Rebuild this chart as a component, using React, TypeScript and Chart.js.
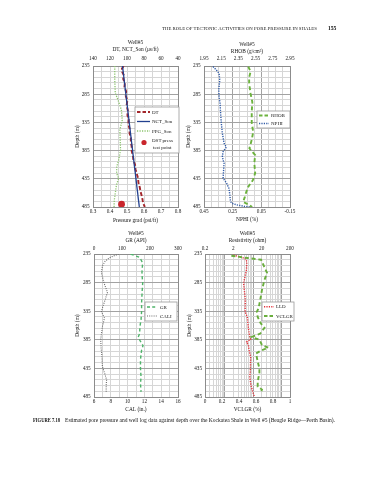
import React, { useEffect, useRef } from 'react';
import { Chart, registerables } from 'chart.js';

Chart.register(...registerables);

const FONT = "'Liberation Serif', 'Times New Roman', Times, serif";
const TEXT = '#151515';
const BORDER = '#8c8c8c';
const MAJOR = '#a2a2a2';
const MINOR = '#d6d6d6';

// ---------- depth axis ----------
const depthTicks = [235, 285, 335, 385, 435, 485];

// ---------- panel 1 : DT / NCT / PPG ----------
const dtTicks = [140, 120, 100, 80, 60, 40];
const pgTicks = [0.3, 0.4, 0.5, 0.6, 0.7, 0.8];
const dtDepth = [235, 240, 246, 252, 258, 265, 272, 280, 288, 296, 305, 314, 322, 330, 338, 346, 354, 362, 370, 378, 386, 394, 402, 410, 418, 426, 434, 442, 450, 458, 466, 474, 480, 485];
const dtValues = [104, 106, 105.5, 103.5, 104.5, 102.5, 103, 101, 101.5, 99.5, 100.5, 99, 99.5, 98, 98.5, 97, 97, 95.5, 95.5, 94.5, 94.5, 93, 92.5, 90.5, 90, 88.5, 87, 86.5, 85, 84, 82.5, 81.5, 80.5, 79];
const nctDepth = [235, 485];
const nctValues = [105.3, 85.5];
const ppgDepth = [235, 260, 283, 295, 313, 331, 348, 366, 384, 402, 413, 425, 434, 446, 461, 473, 485];
const ppgValues = [0.428, 0.428, 0.431, 0.447, 0.467, 0.472, 0.458, 0.46, 0.462, 0.451, 0.44, 0.439, 0.451, 0.438, 0.431, 0.425, 0.424];
const dstDepth = [480];
const dstValues = [0.468];

// ---------- panel 2 : RHOB / NPHI ----------
const rhobTicks = [1.95, 2.15, 2.35, 2.55, 2.75, 2.95];
const rhobLabels = ['1.95', '2.15', '2.35', '2.55', '2.75', '2.95'];
const nphiTicks = [0.45, 0.25, 0.05, -0.15];
const nphiLabels = ['0.45', '0.25', '0.05', '-0.15'];
const rhobDepth = [236, 245, 255, 265, 283, 299, 317, 336, 352, 366, 381, 393, 407, 425, 437, 449, 459, 467, 476, 480, 485];
const rhobValues = [2.465, 2.492, 2.475, 2.475, 2.49, 2.512, 2.505, 2.505, 2.522, 2.505, 2.478, 2.545, 2.535, 2.545, 2.52, 2.465, 2.44, 2.425, 2.405, 2.46, 2.51];
const nphiDepth = [236, 242, 248, 260, 277, 289, 301, 319, 337, 354, 372, 379, 387, 396, 408, 419, 434, 443, 452, 461, 473, 478, 481, 484, 485];
const nphiValues = [0.387, 0.364, 0.345, 0.34, 0.347, 0.345, 0.338, 0.334, 0.329, 0.322, 0.31, 0.294, 0.317, 0.322, 0.31, 0.313, 0.317, 0.292, 0.276, 0.271, 0.266, 0.259, 0.225, 0.166, 0.12];

// ---------- panel 3 : GR / CALI ----------
const grTicks = [0, 100, 200, 300];
const calTicks = [6, 8, 10, 12, 14, 16];
const grDepth = [235, 241, 248, 255, 270, 285, 300, 320, 335, 350, 362, 374, 380, 386, 395, 403, 410, 420, 435, 450, 462, 476];
const grValues = [131, 163, 171, 173, 171, 174, 172, 170, 170, 168, 164, 163, 158, 164, 175, 170, 168, 166, 166, 168, 166, 168];
const calDepth = [235, 238, 242, 248, 256, 268, 286, 302, 314, 327, 336, 347, 362, 375, 385, 400, 415, 432, 445, 455, 465, 476];
const calValues = [8.95, 8.4, 7.8, 7.3, 7.0, 6.88, 7.2, 7.6, 7.35, 7.05, 6.88, 7.25, 7.0, 6.88, 6.8, 6.85, 6.95, 7.0, 7.3, 7.5, 7.45, 7.45];

// ---------- panel 4 : LLD / VCLGR ----------
const lldTicks = [0.2, 2, 20, 200];
const vclTicks = [0, 0.2, 0.4, 0.6, 0.8, 1];
const lldDepth = [237, 240, 243, 248, 263, 286, 315, 336, 345, 365, 380, 384, 389, 395, 405, 415, 438, 450, 465, 475, 484];
const lldValues = [2.0, 3.5, 5.2, 6.0, 5.8, 4.6, 5.3, 5.2, 6.2, 6.8, 7.6, 8.2, 5.9, 6.8, 7.3, 8.2, 8.0, 7.6, 8.4, 9.6, 11];
const vclDepth = [238, 242, 245, 255, 268, 280, 298, 315, 330, 336, 345, 356, 364, 374, 380, 385, 394, 399, 403, 409, 423, 435, 443, 458, 467, 472, 478];
const vclValues = [0.31, 0.5, 0.66, 0.69, 0.73, 0.7, 0.67, 0.65, 0.63, 0.61, 0.62, 0.655, 0.7, 0.65, 0.55, 0.64, 0.67, 0.745, 0.67, 0.6, 0.62, 0.64, 0.64, 0.62, 0.62, 0.67, 0.655];

// ---------- helpers ----------
const range = (a: number, b: number, step: number) => {
  const out: number[] = [];
  const n = Math.round((b - a) / step);
  for (let i = 0; i <= n; i++) out.push(+(a + i * step).toFixed(4));
  return out;
};
const logGrid = (lo: number, hi: number) => {
  const out: number[] = [lo];
  for (const p of [0.1, 1, 10, 100, 1000]) {
    for (let k = 1; k <= 9; k++) {
      const v = +(k * p).toFixed(4);
      if (v > lo && v <= hi) out.push(v);
    }
  }
  return out;
};
const near = (a: number, b: number) => Math.abs(a - b) < 1e-6 * Math.max(1, Math.abs(b));
const pts = (depth: number[], vals: number[]) => depth.map((d, i) => ({ x: vals[i], y: d }));
const depthGrid = range(235, 485, 10);

const tickFont = { family: FONT, size: 5.2, lineHeight: 1.2 };
const titleFont = { family: FONT, size: 5.4, lineHeight: '6.8px' };

interface XSpec {
  position: 'top' | 'bottom';
  type: 'linear' | 'logarithmic';
  min: number;
  max: number;
  reverse?: boolean;
  ticks: number[];
  labels: string[];
  grid?: number[];
  dark?: number[];
  title: string | string[];
  titlePad: number;
  tickPad: number;
  size: number;
}

interface PanelSpec {
  left: number;
  top: number;
  w: number;
  h: number;
  yWidth: number;
  rightPad: number;
  yTickPad: number;
  yTitlePad: number;
  xTop: XSpec;
  xBottom: XSpec;
  datasets: any[];
}

function xScale(s: XSpec) {
  return {
    type: s.type,
    position: s.position,
    min: s.min,
    max: s.max,
    reverse: !!s.reverse,
    afterBuildTicks: (sc: any) => {
      sc.ticks = (s.grid ?? s.ticks).map((v) => ({ value: v }));
    },
    afterFit: (sc: any) => {
      sc.height = s.size;
      sc.paddingLeft = 0;
      sc.paddingRight = 0;
    },
    ticks: {
      autoSkip: false,
      maxRotation: 0,
      minRotation: 0,
      padding: s.tickPad,
      font: tickFont,
      color: TEXT,
      callback: (v: any) => {
        const i = s.ticks.findIndex((t) => near(t, Number(v)));
        return i >= 0 ? s.labels[i] : '';
      },
    },
    grid: s.grid
      ? {
          display: true,
          drawTicks: false,
          lineWidth: 1,
          color: (c: any) => {
            const v = c.tick ? c.tick.value : NaN;
            if (near(v, s.min) || near(v, s.max)) return BORDER;
            if (s.dark && s.dark.some((d) => near(d, v))) return MAJOR;
            return MINOR;
          },
        }
      : { display: false, drawTicks: false },
    border: { display: true, color: BORDER, width: 1 },
    title: {
      display: true,
      text: s.title,
      color: TEXT,
      font: titleFont,
      padding: s.position === 'top' ? { top: s.titlePad, bottom: 0 } : { top: 0, bottom: s.titlePad },
    },
  };
}

function buildConfig(p: PanelSpec): any {
  return {
    type: 'scatter',
    data: { datasets: p.datasets },
    options: {
      responsive: false,
      animation: false,
      devicePixelRatio: 1,
      events: [],
      layout: { padding: { left: 0, top: 0, right: p.rightPad, bottom: 0 } },
      plugins: { legend: { display: false }, tooltip: { enabled: false } },
      scales: {
        xTop: xScale(p.xTop),
        xBottom: xScale(p.xBottom),
        y: {
          type: 'linear',
          position: 'left',
          reverse: true,
          min: 235,
          max: 485,
          afterBuildTicks: (sc: any) => {
            sc.ticks = depthGrid.map((v) => ({ value: v }));
          },
          afterFit: (sc: any) => {
            sc.width = p.yWidth;
            sc.paddingTop = 0;
            sc.paddingBottom = 0;
          },
          ticks: {
            autoSkip: false,
            padding: p.yTickPad,
            font: tickFont,
            color: TEXT,
            callback: (v: any) => (depthTicks.some((t) => near(t, Number(v))) ? String(v) : ''),
          },
          grid: {
            drawTicks: false,
            lineWidth: 1,
            color: (c: any) => {
              const v = c.tick ? c.tick.value : NaN;
              if (v === 235 || v === 485) return BORDER;
              return depthTicks.includes(v) ? MAJOR : MINOR;
            },
          },
          border: { display: true, color: BORDER, width: 1 },
          title: {
            display: true,
            text: 'Depth (m)',
            color: TEXT,
            font: titleFont,
            padding: { top: p.yTitlePad, bottom: 0 },
          },
        },
      },
    },
  };
}

const line = (label: string, data: any[], axis: string, color: string, width: number, dash: number[]) => ({
  label,
  data,
  xAxisID: axis,
  yAxisID: 'y',
  showLine: true,
  borderColor: color,
  backgroundColor: color,
  borderWidth: width,
  borderDash: dash,
  pointRadius: 0,
  tension: 0,
  fill: false,
});

const C_DT = '#a3262b';
const C_NCT = '#22408f';
const C_PPG = '#8cc46e';
const C_DST = '#c9252c';
const C_RHOB = '#6cb23e';
const C_NPHI = '#2f5aa6';
const C_GR = '#4fb36a';
const C_CAL = '#6a6a6a';
const C_LLD = '#e3323b';
const C_VCL = '#6aae3e';

const panels: PanelSpec[] = [
  {
    left: 64, top: 36, w: 122, h: 192, yWidth: 29, rightPad: 8, yTickPad: 3.5, yTitlePad: 10.1,
    xTop: {
      position: 'top', type: 'linear', min: 40, max: 140, reverse: true,
      ticks: dtTicks, labels: dtTicks.map(String),
      title: ['Well#5', 'DT, NCT_Son (\u03bcs/ft)'], titlePad: 3.6, tickPad: 4, size: 30,
    },
    xBottom: {
      position: 'bottom', type: 'linear', min: 0.3, max: 0.8,
      ticks: pgTicks, labels: pgTicks.map(String), grid: range(0.3, 0.8, 0.05),
      title: 'Pressure grad (psi/ft)', titlePad: 3.6, tickPad: 2, size: 21,
    },
    datasets: [
      line('PPG_Son', pts(ppgDepth, ppgValues), 'xBottom', C_PPG, 1.3, [1.2, 1.3]),
      line('NCT_Son', pts(nctDepth, nctValues), 'xTop', C_NCT, 1.3, []),
      line('DT', pts(dtDepth, dtValues), 'xTop', C_DT, 1.9, [4, 2.2]),
      {
        label: 'DST press test point',
        data: pts(dstDepth, dstValues),
        xAxisID: 'xBottom',
        yAxisID: 'y',
        showLine: false,
        pointRadius: 3.4,
        pointBackgroundColor: C_DST,
        pointBorderWidth: 0,
      },
    ],
  },
  {
    left: 178, top: 36, w: 120, h: 192, yWidth: 26, rightPad: 8, yTickPad: 3.3, yTitlePad: 7.1,
    xTop: {
      position: 'top', type: 'linear', min: 1.95, max: 2.95,
      ticks: rhobTicks, labels: rhobLabels,
      title: ['Well#5', 'RHOB (g/cm\u00b3)'], titlePad: 5.6, tickPad: 4, size: 30,
    },
    xBottom: {
      position: 'bottom', type: 'linear', min: -0.15, max: 0.45, reverse: true,
      ticks: nphiTicks, labels: nphiLabels, grid: range(-0.15, 0.45, 0.05), dark: [0.25, 0.05],
      title: 'NPHI (%)', titlePad: 4.6, tickPad: 2, size: 21,
    },
    datasets: [
      line('RHOB', pts(rhobDepth, rhobValues), 'xTop', C_RHOB, 1.9, [4, 2.8]),
      line('NPHI', pts(nphiDepth, nphiValues), 'xBottom', C_NPHI, 1.4, [1.2, 1.2]),
    ],
  },
  {
    left: 64, top: 224, w: 122, h: 192, yWidth: 30, rightPad: 8, yTickPad: 3.3, yTitlePad: 9.9,
    xTop: {
      position: 'top', type: 'linear', min: 0, max: 300,
      ticks: grTicks, labels: grTicks.map(String),
      title: ['Well#5', 'GR (API)'], titlePad: 6.6, tickPad: 2, size: 30,
    },
    xBottom: {
      position: 'bottom', type: 'linear', min: 6, max: 16,
      ticks: calTicks, labels: calTicks.map(String), grid: range(6, 16, 1),
      title: 'CAL (in.)', titlePad: 3.3, tickPad: 1.7, size: 19,
    },
    datasets: [
      line('GR', pts(grDepth, grValues), 'xTop', C_GR, 1.4, [3.2, 2.6]),
      line('CALI', pts(calDepth, calValues), 'xBottom', C_CAL, 1.1, [1, 1.2]),
    ],
  },
  {
    left: 178, top: 224, w: 120, h: 192, yWidth: 27, rightPad: 8, yTickPad: 3, yTitlePad: 8.6,
    xTop: {
      position: 'top', type: 'logarithmic', min: 0.2, max: 200,
      ticks: lldTicks, labels: lldTicks.map(String), grid: logGrid(0.2, 200), dark: [1, 10, 100],
      title: ['Well#5', 'Resistivity (ohm)'], titlePad: 5.9, tickPad: 2, size: 30,
    },
    xBottom: {
      position: 'bottom', type: 'linear', min: 0, max: 1,
      ticks: vclTicks, labels: vclTicks.map(String),
      title: 'VCLGR (%)', titlePad: 3.3, tickPad: 1.7, size: 19,
    },
    datasets: [
      line('VCLGR', pts(vclDepth, vclValues), 'xBottom', C_VCL, 1.9, [4, 2.8]),
      line('LLD', pts(lldDepth, lldValues), 'xTop', C_LLD, 1.4, [1.2, 1.2]),
    ],
  },
];

const LS = 5; // legend font size

function Legend() {
  const t = (x: number, y: number, s: string) => (
    <text x={x} y={y} fontSize={LS} fontFamily={FONT} fill={TEXT} dominantBaseline="central">{s}</text>
  );
  return (
    <g>
      {/* panel 1 */}
      <rect x={135} y={107} width={44} height={46} fill="#fff" stroke="#9a9a9a" strokeWidth={0.8} />
      <line x1={137} x2={150} y1={112} y2={112} stroke={C_DT} strokeWidth={1.8} strokeDasharray="3.5 2" />
      {t(152, 112, 'DT')}
      <line x1={137} x2={150} y1={121.5} y2={121.5} stroke={C_NCT} strokeWidth={1.3} />
      {t(152, 121.5, 'NCT_Son')}
      <line x1={137} x2={150} y1={131} y2={131} stroke={C_PPG} strokeWidth={1.3} strokeDasharray="1.2 1.3" />
      {t(152, 131, 'PPG_Son')}
      <circle cx={144} cy={142.5} r={2.6} fill={C_DST} />
      {t(152, 140.5, 'DST press')}
      {t(153, 147.2, 'test point')}
      {/* panel 2 */}
      <rect x={257} y={111} width={33} height={17} fill="#fff" stroke="#9a9a9a" strokeWidth={0.8} />
      <line x1={259} x2={269} y1={115.5} y2={115.5} stroke={C_RHOB} strokeWidth={1.8} strokeDasharray="3.5 2" />
      {t(271, 115.5, 'RHOB')}
      <line x1={259} x2={269} y1={123.5} y2={123.5} stroke={C_NPHI} strokeWidth={1.3} strokeDasharray="1.2 1.2" />
      {t(271, 123.5, 'NPHI')}
      {/* panel 3 */}
      <rect x={145} y={302} width={32} height={19} fill="#fff" stroke="#9a9a9a" strokeWidth={0.8} />
      <line x1={147} x2={157} y1={307} y2={307} stroke={C_GR} strokeWidth={1.4} strokeDasharray="3 2.2" />
      {t(160, 307, 'GR')}
      <line x1={147} x2={157} y1={316} y2={316} stroke={C_CAL} strokeWidth={1.1} strokeDasharray="1 1.2" />
      {t(160, 316, 'CALI')}
      {/* panel 4 */}
      <rect x={262} y={302} width={32} height={19} fill="#fff" stroke="#9a9a9a" strokeWidth={0.8} />
      <line x1={264} x2={274} y1={306.7} y2={306.7} stroke={C_LLD} strokeWidth={1.4} strokeDasharray="1.2 1.2" />
      {t(276, 306.7, 'LLD')}
      <line x1={264} x2={274} y1={316} y2={316} stroke={C_VCL} strokeWidth={1.8} strokeDasharray="3.5 2" />
      {t(276, 316, 'VCLGR')}
    </g>
  );
}

export default function App() {
  const r0 = useRef<HTMLCanvasElement>(null);
  const r1 = useRef<HTMLCanvasElement>(null);
  const r2 = useRef<HTMLCanvasElement>(null);
  const r3 = useRef<HTMLCanvasElement>(null);
  const refs = [r0, r1, r2, r3];

  useEffect(() => {
    const charts = panels.map((p, i) => new Chart(refs[i].current as HTMLCanvasElement, buildConfig(p)));
    return () => charts.forEach((c) => c.destroy());
  }, []);

  return (
    <div style={{ position: 'absolute', left: 0, top: 0, width: 370, height: 480, background: '#fff', overflow: 'hidden' }}>
      {panels.map((p, i) => (
        <canvas
          key={i}
          ref={refs[i]}
          width={p.w}
          height={p.h}
          style={{ position: 'absolute', left: p.left, top: p.top, width: p.w, height: p.h }}
        />
      ))}
      <svg width={370} height={480} style={{ position: 'absolute', left: 0, top: 0, pointerEvents: 'none' }}>
        <text x={162} y={29.6} fontSize={4.6} fontFamily={FONT} fill={TEXT} textLength={155} lengthAdjust="spacingAndGlyphs">
          THE ROLE OF TECTONIC ACTIVITIES ON PORE PRESSURE IN SHALES
        </text>
        <text x={328} y={29.8} fontSize={5.6} fontWeight="bold" fontFamily={FONT} fill={TEXT}>155</text>
        <Legend />
        <text x={33} y={421.8} fontSize={5.2} fontWeight="bold" fontFamily={FONT} fill={TEXT} textLength={27} lengthAdjust="spacingAndGlyphs">
          FIGURE 7.18
        </text>
        <text x={65} y={421.8} fontSize={5.2} fontFamily={FONT} fill={TEXT} textLength={270} lengthAdjust="spacingAndGlyphs">
          Estimated pore pressure and well log data against depth over the Kockatea Shale in Well #5 (Beagle Ridge—Perth Basin).
        </text>
      </svg>
    </div>
  );
}
